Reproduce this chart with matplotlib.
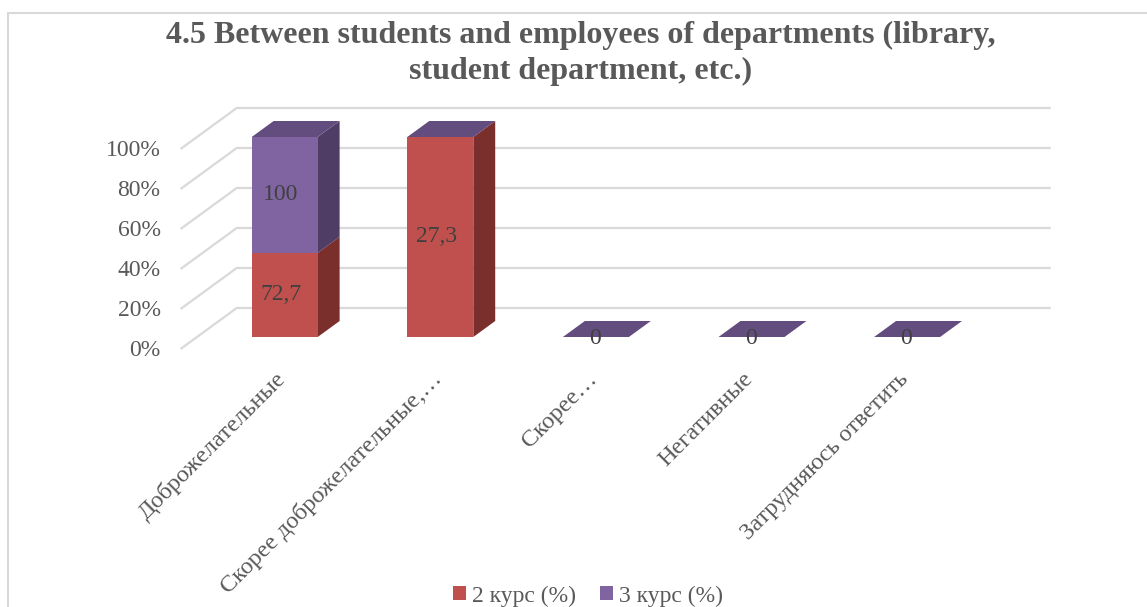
import numpy as np
import matplotlib.pyplot as plt
from matplotlib.patches import Polygon, Patch, Rectangle

# survey answers and shares per course
categories = ['Доброжелательные', 'Скорее доброжелательные,…', 'Скорее…',
              'Негативные', 'Затрудняюсь ответить']
kurs2 = [72.7, 27.3, 0, 0, 0]
kurs3 = [100, 0, 0, 0, 0]
series_names = ['2 курс (%)', '3 курс (%)']
yticks = [0, 20, 40, 60, 80, 100]
title_lines = ['4.5 Between students and employees of departments (library,',
               'student department, etc.)']

plt.rcParams['font.family'] = ['Liberation Serif', 'DejaVu Serif']
TXT = '#595959'
GRID = '#D9D9D9'
RED, RED_SIDE = '#C0504D', '#7B2F2D'
PUR, PUR_SIDE, PUR_TOP = '#8064A2', '#4F3D66', '#634D7E'

W, H = 1147, 607
fig = plt.figure(figsize=(W / 100, H / 100), dpi=100)

# axes in category / percent units
x0_px, sx = 284.7, 155.6      # px of first category, px per category
y0_px, sy = 337.0, 2.0        # px (from top) of 0 %, px per percent
xlim = (-1.5, 5.0)
ylim = (-10, 120)
left = (x0_px + sx * xlim[0]) / W
width = sx * (xlim[1] - xlim[0]) / W
top_px = y0_px - sy * ylim[1]
bottom_px = y0_px - sy * ylim[0]
ax = fig.add_axes([left, 1 - bottom_px / H, width, (bottom_px - top_px) / H])
ax.set_xlim(*xlim)
ax.set_ylim(*ylim)
ax.axis('off')


def depth(d):
    # oblique depth offset in data units for d pixels of depth
    return 1.37 * d / sx, d / sy


bw = 66 / sx
bar_depth = 16

# back wall gridlines with the diagonal side part
wall_x0 = (197 - x0_px) / sx
wall_x1 = (1011 - x0_px) / sx
fdx, fdy = depth(-12)
bdx, bdy = depth(29)
for v in yticks:
    ax.plot([wall_x0 + fdx, wall_x0 + bdx, wall_x1 + bdx],
            [v + fdy, v + bdy, v + bdy], color=GRID, lw=1.6, zorder=0,
            solid_capstyle='butt')
    ax.text(wall_x0 + fdx - 20 / sx, v + fdy - 1, f'{v}%', ha='right', va='center',
            fontsize=17, color=TXT)


def fmt(v):
    return f'{v:g}'.replace('.', ',')


dx, dy = depth(bar_depth)
k2 = np.array(kurs2, dtype=float)
k3 = np.array(kurs3, dtype=float)
tot = k2 + k3
p2 = np.divide(k2 * 100, tot, out=np.zeros_like(tot), where=tot > 0)
p3 = np.divide(k3 * 100, tot, out=np.zeros_like(tot), where=tot > 0)
xs = np.arange(len(categories))

for i, x in enumerate(xs):
    segs = [(0, p2[i], RED, RED_SIDE), (p2[i], p2[i] + p3[i], PUR, PUR_SIDE)]
    for y0, y1, face, side in segs:
        if y1 <= y0:
            continue
        xr = x + bw / 2
        ax.add_patch(Polygon([(xr, y0), (xr + dx, y0 + dy), (xr + dx, y1 + dy), (xr, y1)],
                             closed=True, facecolor=side, edgecolor='none', zorder=2))
        ax.bar(x, y1 - y0, bottom=y0, width=bw, color=face, zorder=3)
    yt = p2[i] + p3[i]
    ax.add_patch(Polygon([(x - bw / 2, yt), (x + bw / 2, yt),
                          (x + bw / 2 + dx, yt + dy), (x - bw / 2 + dx, yt + dy)],
                         closed=True, facecolor=PUR_TOP, edgecolor='none', zorder=3))

    # value labels
    if tot[i] == 0:
        ax.text(x - 1 / sx, -1, '0', ha='center', va='center', fontsize=17, color='#404040', zorder=5)
    else:
        for val, y0, p in [(k2[i], 0, p2[i]), (k3[i], p2[i], p3[i])]:
            if p > 0:
                ax.text(x - 4 / sx, y0 + p / 2, fmt(val), ha='center', va='center',
                        fontsize=17, color='#404040', zorder=5)

    ax.text(x - 2 / sx, -19.5, categories[i], rotation=45, rotation_mode='anchor',
            ha='right', va='center', fontsize=17.5, color=TXT)

# chart border
fig.add_artist(Rectangle((8 / W, -0.1), 1.2, 1.1 - 13 / H, transform=fig.transFigure,
                         facecolor='none', edgecolor=GRID, lw=1.5))

for k, line in enumerate(title_lines):
    fig.text(581 / W, 1 - (43 + 36 * k) / H, line, ha='center', va='baseline',
             fontsize=23, fontweight='bold', color=TXT)

handles = [Patch(facecolor=RED, label=series_names[0]),
           Patch(facecolor=PUR, label=series_names[1])]
fig.legend(handles=handles, loc='center', bbox_to_anchor=(588 / W, 1 - 596 / H),
           ncol=2, frameon=False, fontsize=17, handlelength=0.55, handleheight=0.55,
           handletextpad=0.25, columnspacing=1.0, labelcolor=TXT)

fig.savefig('out.png', dpi=100)
